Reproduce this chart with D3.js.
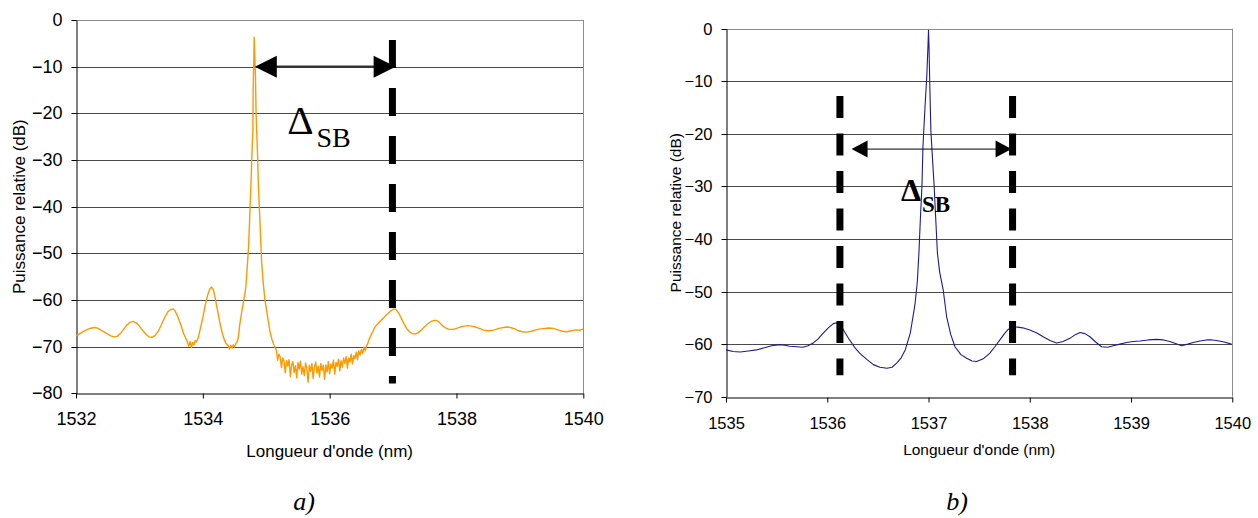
<!DOCTYPE html>
<html><head><meta charset="utf-8">
<script src="https://cdn.jsdelivr.net/npm/d3@7"></script>
<style>body{margin:0;background:#fff}svg{display:block}</style>
</head><body>
<svg id="c" width="1258" height="518"></svg>
<script>
// ---------- Panel a) data ----------
const xTicksA = [1532, 1534, 1536, 1538, 1540];
const yTicksA = [0, -10, -20, -30, -40, -50, -60, -70, -80];
const lambdaA = [
1532.00,1532.05,1532.10,1532.15,1532.20,1532.25,1532.30,1532.35,1532.40,1532.45,
1532.50,1532.55,1532.60,1532.65,1532.70,1532.75,1532.80,1532.85,1532.90,1532.95,
1533.00,1533.05,1533.10,1533.15,1533.20,1533.25,1533.30,1533.35,1533.40,1533.45,
1533.50,1533.53,1533.56,1533.60,1533.65,1533.70,1533.75,1533.78,1533.80,1533.82,
1533.84,1533.86,1533.88,1533.90,1533.93,1533.96,1534.00,1534.04,1534.08,1534.11,
1534.14,1534.17,1534.20,1534.24,1534.28,1534.32,1534.36,1534.40,1534.42,1534.44,
1534.46,1534.48,1534.50,1534.52,1534.54,1534.56,1534.58,1534.62,1534.66,1534.68,
1534.70,1534.72,1534.735,1534.745,1534.76,1534.771,1534.785,1534.79,1534.795,1534.805,
1534.81,1534.82,1534.83,1534.84,1534.85,1534.866,1534.875,1534.891,1534.91,1534.928,
1534.95,1534.98,1535.02,1535.06,1535.09,1535.12,1535.15,
1535.16,1535.18,1535.20,1535.22,1535.24,1535.26,1535.28,1535.30,1535.32,1535.34,
1535.36,1535.38,1535.40,1535.42,1535.44,1535.46,1535.48,1535.50,1535.52,1535.54,
1535.56,1535.58,1535.60,1535.62,1535.64,1535.66,1535.68,1535.70,1535.72,1535.74,
1535.76,1535.78,1535.80,1535.82,1535.84,1535.86,1535.88,1535.90,1535.92,1535.94,
1535.96,1535.98,1536.00,1536.02,1536.04,1536.06,1536.08,1536.10,1536.12,1536.14,
1536.16,1536.18,1536.20,1536.22,1536.24,1536.26,1536.28,1536.30,1536.32,1536.34,
1536.36,1536.38,1536.40,1536.42,1536.44,1536.46,1536.48,1536.50,1536.52,1536.54,
1536.56,1536.58,1536.60,
1536.62,1536.65,1536.68,1536.71,1536.74,1536.77,1536.80,1536.84,1536.88,1536.92,
1536.96,1537.00,1537.03,1537.06,1537.10,1537.14,1537.18,1537.22,1537.26,1537.30,
1537.35,1537.40,1537.45,1537.50,1537.55,1537.60,1537.65,1537.69,1537.73,1537.78,
1537.83,1537.88,1537.95,1538.00,1538.06,1538.12,1538.18,1538.24,1538.30,1538.36,
1538.42,1538.48,1538.53,1538.60,1538.67,1538.74,1538.80,1538.85,1538.92,1538.98,
1539.04,1539.11,1539.18,1539.25,1539.32,1539.39,1539.46,1539.53,1539.60,1539.67,
1539.74,1539.81,1539.88,1539.94,1540.00];
const powerA = [
-67.7,-67.3,-66.9,-66.5,-66.2,-66.0,-65.9,-66.1,-66.5,-66.9,
-67.3,-67.7,-67.9,-67.8,-67.2,-66.3,-65.4,-64.8,-64.6,-64.9,
-65.6,-66.5,-67.3,-67.9,-68.0,-67.6,-66.6,-65.2,-63.7,-62.5,
-62.0,-61.9,-62.3,-63.4,-65.2,-67.3,-68.8,-69.9,-68.9,-70.2,
-69.1,-69.6,-68.7,-69.0,-68.0,-66.2,-63.8,-61.0,-58.8,-57.6,
-57.2,-58.0,-60.0,-62.8,-65.6,-67.8,-69.2,-69.8,-70.5,-69.7,
-70.3,-69.6,-70.1,-69.4,-69.0,-68.0,-65.5,-62.0,-59.0,-57.0,
-53.0,-49.0,-44.0,-40.0,-35.0,-30.0,-25.0,-23.0,-14.0,-8.0,
-3.7,-8.0,-12.0,-20.0,-24.0,-30.0,-35.0,-40.0,-46.0,-52.0,
-56.0,-60.0,-63.5,-66.8,-68.4,-69.6,-70.5,
-70.8,-72.9,-71.6,-72.2,-74.5,-72.4,-73.1,-75.6,-73.0,-74.1,
-72.8,-76.4,-74.0,-73.2,-75.5,-74.1,-76.7,-73.4,-74.8,-73.1,
-75.9,-74.3,-76.2,-73.5,-74.6,-77.6,-74.0,-75.3,-73.6,-76.8,
-74.4,-73.3,-75.7,-74.2,-76.5,-73.6,-75.1,-74.0,-77.0,-73.9,
-75.4,-73.2,-75.8,-73.7,-74.6,-72.9,-75.9,-73.4,-74.2,-72.7,
-75.2,-73.0,-74.4,-72.5,-73.6,-72.1,-74.6,-72.4,-73.3,-71.6,
-73.7,-71.9,-72.6,-71.2,-72.8,-70.9,-71.8,-70.6,-71.5,-70.1,
-70.9,-69.9,-69.4,
-68.5,-67.6,-66.8,-65.9,-65.4,-65.0,-64.5,-64.0,-63.4,-62.9,
-62.4,-62.0,-61.9,-62.3,-63.1,-64.2,-65.3,-66.2,-66.8,-67.2,
-67.3,-67.0,-66.4,-65.7,-65.1,-64.6,-64.4,-64.4,-64.8,-65.5,
-66.0,-66.3,-66.3,-66.1,-65.8,-65.6,-65.5,-65.6,-65.8,-66.1,
-66.4,-66.6,-66.6,-66.4,-66.1,-65.9,-65.8,-65.9,-66.2,-66.6,
-66.8,-66.9,-66.7,-66.4,-66.2,-66.1,-66.0,-66.1,-66.4,-66.7,
-66.8,-66.6,-66.4,-66.5,-66.2];
// annotations a) : dashed marker, arrow, label
const markerA = [1536.99];
const markerSpanA = [-4.3, -77.9];
const arrowA = [1534.82, 1537.04, -10];   // from, to, level
const labelA = [1535.33, -24.4];

// ---------- Panel b) data ----------
const xTicksB = [1535, 1536, 1537, 1538, 1539, 1540];
const yTicksB = [0, -10, -20, -30, -40, -50, -60, -70];
const lambdaB = [
1535.00,1535.07,1535.14,1535.22,1535.30,1535.38,1535.45,1535.53,1535.58,1535.63,
1535.70,1535.76,1535.81,1535.86,1535.91,1535.96,1536.01,1536.06,1536.11,1536.16,
1536.22,1536.27,1536.32,1536.39,1536.455,1536.52,1536.59,1536.64,1536.685,1536.73,
1536.77,1536.82,1536.866,1536.89,1536.905,1536.92,1536.935,1536.945,1536.965,1536.983,
1536.995,1537.000,1537.005,1537.013,1537.023,1537.04,1537.056,1537.072,1537.088,1537.11,
1537.145,1537.179,1537.22,1537.261,1537.32,1537.376,1537.43,1537.475,1537.54,1537.606,
1537.655,1537.705,1537.75,1537.787,1537.82,1537.853,1537.93,1538.001,1538.07,1538.132,
1538.2,1538.265,1538.33,1538.396,1538.45,1538.495,1538.545,1538.594,1538.65,1538.709,
1538.77,1538.823,1538.89,1538.956,1539.02,1539.087,1539.17,1539.252,1539.32,1539.383,
1539.44,1539.499,1539.56,1539.613,1539.68,1539.745,1539.80,1539.844,1539.92,1539.992];
const powerB = [
-61.1,-61.4,-61.5,-61.3,-61.1,-60.7,-60.3,-60.1,-60.2,-60.4,
-60.5,-60.6,-60.3,-59.8,-59.0,-57.9,-56.9,-56.1,-55.9,-57.3,
-59.2,-60.6,-61.7,-62.9,-63.9,-64.4,-64.6,-64.4,-63.6,-62.6,
-61.1,-57.9,-52.5,-48.0,-42.7,-36.0,-30.0,-22.4,-15.0,-9.0,
-3.0,-0.3,-3.5,-11.0,-19.3,-25.0,-30.0,-36.5,-42.7,-46.3,
-49.7,-54.8,-58.2,-60.5,-62.0,-62.7,-63.2,-63.3,-62.8,-61.7,
-60.5,-59.2,-58.0,-57.2,-56.8,-56.7,-56.9,-57.3,-57.9,-58.6,
-59.3,-59.8,-59.5,-58.9,-58.2,-57.8,-58.0,-58.6,-59.6,-60.5,
-60.6,-60.3,-60.0,-59.7,-59.5,-59.4,-59.2,-59.1,-59.2,-59.5,
-59.9,-60.3,-60.0,-59.7,-59.4,-59.2,-59.2,-59.3,-59.6,-60.0];
const markersB = [1536.125, 1537.83];
const markerSpanB = [-12.8, -65.9];
const arrowB = [1536.24, 1537.82, -22.9];
const labelB = [1536.727, -32.8];

// ---------- drawing ----------
const svg = d3.select("#c");

function panel(o) {
  const g = svg.append("g");
  const x = d3.scaleLinear().domain(o.xDomain).range([o.left, o.right]);
  const y = d3.scaleLinear().domain(o.yDomain).range([o.top, o.bottom]);

  // gridlines
  g.append("g").selectAll("line").data(o.yTicks.slice(0, -1)).join("line")
    .attr("x1", o.left).attr("x2", o.right)
    .attr("y1", d => Math.round(y(d)) + 0.5).attr("y2", d => Math.round(y(d)) + 0.5)
    .attr("stroke", d => d === o.yTicks[0] ? "#8c8c8c" : "#4a4a4a").attr("stroke-width", 1);
  // right border
  g.append("line").attr("x1", Math.round(o.right) + 0.5).attr("x2", Math.round(o.right) + 0.5)
    .attr("y1", o.top).attr("y2", o.bottom).attr("stroke", "#8c8c8c");

  // y axis
  const ya = g.append("g").attr("transform", `translate(${Math.round(o.left) + 0.5},0)`)
    .call(d3.axisLeft(y).tickValues(o.yTicks).tickSize(5).tickSizeOuter(0).tickPadding(o.yPad));
  ya.selectAll("text").attr("font-family", "'Liberation Sans', Arial, sans-serif")
    .attr("font-size", o.tickFont).attr("fill", "#000");
  ya.selectAll("line,path").attr("stroke", "#000");
  ya.selectAll(".tick").attr("transform", d => `translate(0,${Math.round(y(d)) + 0.5})`);

  // x axis
  const xa = g.append("g").attr("transform", `translate(0,${Math.round(o.bottom) + 0.5})`)
    .call(d3.axisBottom(x).tickValues(o.xTicks).tickSize(5).tickSizeOuter(0).tickFormat(d3.format("d")));
  xa.selectAll("text").attr("font-family", "'Liberation Sans', Arial, sans-serif")
    .attr("font-size", o.tickFont).attr("fill", "#000").attr("dy", null).attr("y", o.xLabelOff);
  xa.selectAll("line,path").attr("stroke", "#000");

  // titles
  g.append("text").attr("x", (o.left + o.right) / 2).attr("y", o.xTitleY)
    .attr("text-anchor", "middle").attr("font-family", "'Liberation Sans', Arial, sans-serif")
    .attr("font-size", o.titleFont).text("Longueur d'onde (nm)");
  g.append("text").attr("transform", `translate(${o.yTitleX},${(o.top + o.bottom) / 2}) rotate(-90)`)
    .attr("text-anchor", "middle").attr("font-family", "'Liberation Sans', Arial, sans-serif")
    .attr("font-size", o.titleFont).text("Puissance relative (dB)");

  // curve
  const pts = d3.zip(o.lambda, o.power);
  g.append("path").datum(pts)
    .attr("d", d3.line().x(d => x(d[0])).y(d => y(d[1])))
    .attr("fill", "none").attr("stroke", o.color).attr("stroke-width", o.lineW)
    .attr("stroke-linejoin", "round");

  // dashed markers
  g.append("g").selectAll("line").data(o.markers).join("line")
    .attr("x1", d => x(d)).attr("x2", d => x(d))
    .attr("y1", y(o.markerSpan[0])).attr("y2", y(o.markerSpan[1]))
    .attr("stroke", "#000").attr("stroke-width", o.dashW)
    .attr("stroke-dasharray", o.dash);

  // double arrow
  const ax1 = x(o.arrow[0]), ax2 = x(o.arrow[1]), ay = y(o.arrow[2]);
  g.append("line").attr("x1", ax1 + 4).attr("x2", ax2 - 4).attr("y1", ay).attr("y2", ay)
    .attr("stroke", o.arrowColor).attr("stroke-width", o.arrowLineW);
  const L = o.headL, H = o.headH;
  g.append("path").attr("d", `M${ax1},${ay}L${ax1 + L},${ay - H}L${ax1 + L},${ay + H}Z`).attr("fill", "#000");
  g.append("path").attr("d", `M${ax2},${ay}L${ax2 - L},${ay - H}L${ax2 - L},${ay + H}Z`).attr("fill", "#000");

  // delta label
  const t = g.append("text").attr("x", x(o.label[0])).attr("y", y(o.label[1]))
    .attr("font-family", "'Liberation Serif', 'Times New Roman', serif")
    .attr("font-weight", o.labelBold ? "bold" : "normal");
  t.append("tspan").attr("font-size", o.deltaFont).text("Δ");
  t.append("tspan").attr("font-size", o.subFont).attr("dx", o.subDx).attr("dy", o.subDy).text("SB");

  // caption
  g.append("text").attr("x", o.capX).attr("y", 510).attr("text-anchor", "middle")
    .attr("font-family", "'Liberation Serif', 'Times New Roman', serif")
    .attr("font-style", "italic").attr("font-size", 26).text(o.caption);
}

panel({
  left: 76, right: 583.3, top: 20, bottom: 393.3,
  xDomain: [1532, 1540], yDomain: [0, -80],
  xTicks: xTicksA, yTicks: yTicksA,
  lambda: lambdaA, power: powerA, color: "#FF9900", lineW: 1.4,
  markers: markerA, markerSpan: markerSpanA, dash: "28,20", dashW: 7,
  arrow: arrowA, arrowColor: "#333", arrowLineW: 2.5, headL: 22, headH: 11,
  label: labelA, labelBold: false, deltaFont: 41, subFont: 28, subDx: 3, subDy: 13,
  tickFont: 18, titleFont: 17, yPad: 9, xLabelOff: 31.5, xTitleY: 457, yTitleX: 25,
  capX: 304, caption: "a)"
});
panel({
  left: 726, right: 1232.3, top: 28.7, bottom: 396.7,
  xDomain: [1535, 1540], yDomain: [0, -70],
  xTicks: xTicksB, yTicks: yTicksB,
  lambda: lambdaB, power: powerB, color: "#1c1c90", lineW: 1.1,
  markers: markersB, markerSpan: markerSpanB, dash: "22,15.5", dashW: 7,
  arrow: arrowB, arrowColor: "#000", arrowLineW: 1, headL: 16, headH: 8.5,
  label: labelB, labelBold: true, deltaFont: 32, subFont: 23, subDx: 1, subDy: 11,
  tickFont: 16.5, titleFont: 15.5, yPad: 9, xLabelOff: 31.5, xTitleY: 455, yTitleX: 681,
  capX: 957, caption: "b)"
});
</script>
</body></html>
